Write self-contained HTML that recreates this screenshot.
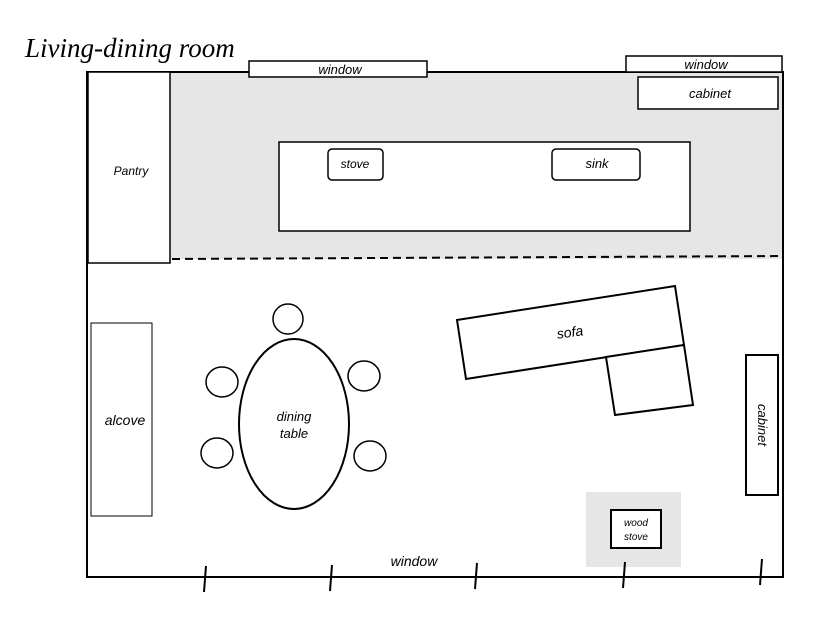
<!DOCTYPE html>
<html><head><style>body{margin:0;background:#fff}svg{display:block}</style></head><body>
<svg width="836" height="619" viewBox="0 0 836 619" xmlns="http://www.w3.org/2000/svg" font-family="Liberation Sans, sans-serif" font-style="italic">
<rect x="0" y="0" width="836" height="619" fill="#fff"/>
<text x="25" y="57" font-family="Liberation Serif, serif" font-size="27">Living-dining room</text>
<rect x="170" y="72" width="613" height="187" fill="#e6e6e6"/>
<rect x="586" y="492" width="95" height="75" fill="#e6e6e6"/>
<rect x="87" y="72" width="696" height="505" fill="none" stroke="#000" stroke-width="2"/>
<line x1="172" y1="259" x2="783" y2="256" stroke="#000" stroke-width="2" stroke-dasharray="8,5"/>
<rect x="88" y="72" width="82" height="191" fill="#fff" stroke="#000" stroke-width="1.5"/>
<text x="131" y="175" font-size="12" text-anchor="middle">Pantry</text>
<rect x="249" y="61" width="178" height="16" fill="#fff" stroke="#000" stroke-width="1.5"/>
<text x="340" y="74" font-size="13" text-anchor="middle">window</text>
<rect x="626" y="56" width="156" height="16" fill="#fff" stroke="#000" stroke-width="1.5"/>
<text x="706" y="69" font-size="13" text-anchor="middle">window</text>
<rect x="638" y="77" width="140" height="32" fill="#fff" stroke="#000" stroke-width="1.5"/>
<text x="710" y="98" font-size="13" text-anchor="middle">cabinet</text>
<rect x="279" y="142" width="411" height="89" fill="#fff" stroke="#000" stroke-width="1.5"/>
<rect x="328" y="149" width="55" height="31" rx="4" fill="#fff" stroke="#000" stroke-width="1.5"/>
<text x="355" y="168" font-size="12" text-anchor="middle">stove</text>
<rect x="552" y="149" width="88" height="31" rx="4" fill="#fff" stroke="#000" stroke-width="1.5"/>
<text x="597" y="168" font-size="13" text-anchor="middle">sink</text>
<rect x="91" y="323" width="61" height="193" fill="#fff" stroke="#000" stroke-width="1"/>
<text x="125" y="425" font-size="14" text-anchor="middle">alcove</text>
<ellipse cx="294" cy="424" rx="55" ry="85" fill="#fff" stroke="#000" stroke-width="2"/>
<text x="294" y="421" font-size="13" text-anchor="middle">dining</text>
<text x="294" y="438" font-size="13" text-anchor="middle">table</text>
<g fill="#fff" stroke="#000" stroke-width="1.5">
<ellipse cx="288" cy="319" rx="15" ry="15"/>
<ellipse cx="222" cy="382" rx="16" ry="15"/>
<ellipse cx="364" cy="376" rx="16" ry="15"/>
<ellipse cx="217" cy="453" rx="16" ry="15"/>
<ellipse cx="370" cy="456" rx="16" ry="15"/>
</g>
<polygon points="457,320 675,286 684,345 466,379" fill="#fff" stroke="#000" stroke-width="2"/>
<polygon points="606,357 684,345 693,405 615,415" fill="#fff" stroke="#000" stroke-width="2"/>
<text x="570" y="337" font-size="14" text-anchor="middle" transform="rotate(-8 570 333)">sofa</text>
<rect x="746" y="355" width="32" height="140" fill="#fff" stroke="#000" stroke-width="2"/>
<text x="762" y="425" font-size="13" text-anchor="middle" transform="rotate(90 762 425)" dy="4">cabinet</text>
<rect x="611" y="510" width="50" height="38" fill="#fff" stroke="#000" stroke-width="2"/>
<text x="636" y="526" font-size="10" text-anchor="middle">wood</text>
<text x="636" y="540" font-size="10" text-anchor="middle">stove</text>
<text x="414" y="566" font-size="14" text-anchor="middle">window</text>
<g stroke="#000" stroke-width="2">
<line x1="206" y1="566" x2="204" y2="592"/>
<line x1="332" y1="565" x2="330" y2="591"/>
<line x1="477" y1="563" x2="475" y2="589"/>
<line x1="625" y1="562" x2="623" y2="588"/>
<line x1="762" y1="559" x2="760" y2="585"/>
</g>
</svg>
</body></html>
